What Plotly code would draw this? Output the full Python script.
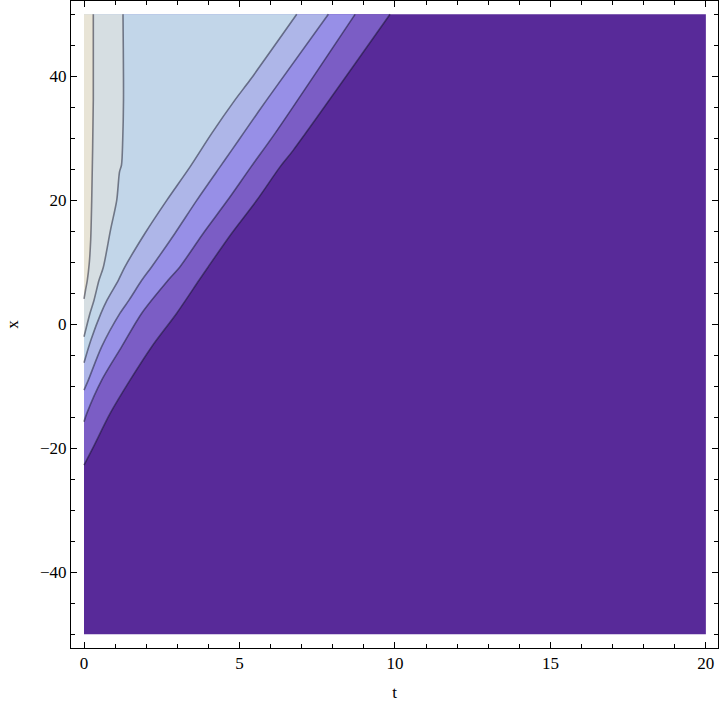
import plotly.graph_objects as go

# Domain of the contour plot
T_RANGE = [0, 20]
X_RANGE = [-50, 50]

# Contour boundary lines (t values, x values), top to bottom
L1_t = [0.299, 0.299, 0.248, 0.215, 0.170, 0.106, 0.048, 0.0]
L1_x = [50, 36.2, 20.0, 13.6, 9.9, 7.1, 5.5, 4.1]

L2_t = [1.254, 1.270, 1.245, 1.206, 1.142, 1.052, 0.852, 0.621, 0.482, 0.322, 0.193, 0.0]
L2_x = [50, 36.2, 29.7, 25.7, 24.6, 20.0, 15.2, 9.2, 7.1, 3.9, 1.8, -2.0]

L3_t = [6.841, 5.339, 4.857, 4.107, 3.410, 2.660, 1.962, 1.319, 1.103, 0.740, 0.547, 0.225, 0.0]
L3_x = [50, 39.4, 36.2, 30.8, 25.4, 20.0, 14.7, 9.3, 7.1, 3.9, 1.8, -2.5, -6.2]

L4_t = [7.858, 5.877, 5.124, 4.751, 4.374, 3.625, 2.927, 2.178, 1.856, 1.447, 1.158, 0.569, 0.138, 0.0]
L4_x = [50, 36.2, 30.8, 28.1, 25.4, 20.0, 14.7, 9.3, 7.1, 3.9, 1.8, -3.6, -9.0, -10.6]

L5_t = [8.717, 6.143, 5.371, 4.616, 3.837, 3.088, 2.702, 1.856, 1.213, 0.569, 0.087, 0.0]
L5_x = [50, 30.8, 25.4, 20.0, 14.7, 9.3, 7.1, 1.8, -3.6, -9.0, -14.4, -15.7]

L6_t = [9.842, 6.732, 6.304, 5.555, 4.751, 3.998, 3.699, 2.982, 2.178, 1.480, 0.836, 0.299, 0.0]
L6_x = [50, 28.1, 25.4, 20.0, 14.7, 9.3, 7.1, 1.8, -3.6, -9.0, -14.4, -19.8, -22.7]

# Region colours, from the deepest (right) to the palest (left)
REGION_COLORS = ["#582A99", "#7B5DC5", "#978FE7", "#AEB6E8", "#C2D6E9", "#D6DEE2", "#E8E4D6"]
LINE_COLOR = "rgba(20,20,40,0.5)"

lines = [(L6_t, L6_x), (L5_t, L5_x), (L4_t, L4_x), (L3_t, L3_x), (L2_t, L2_x), (L1_t, L1_x)]

fig = go.Figure()

# Background (deepest) region covering the whole domain
fig.add_trace(go.Scatter(
    x=[T_RANGE[0], T_RANGE[1], T_RANGE[1], T_RANGE[0]],
    y=[X_RANGE[0], X_RANGE[0], X_RANGE[1], X_RANGE[1]],
    fill="toself", fillcolor=REGION_COLORS[0], mode="lines",
    line=dict(width=0), hoverinfo="skip", showlegend=False))

# Regions to the left of each contour line (smooth edge; corners repeated to stay sharp)
for i, (lt, lx) in enumerate(lines):
    xs = [lt[0]] + list(lt) + [lt[-1], T_RANGE[0], T_RANGE[0], T_RANGE[0], lt[0]]
    ys = [lx[0]] + list(lx) + [lx[-1], X_RANGE[1], X_RANGE[1], X_RANGE[1], lx[0]]
    fig.add_trace(go.Scatter(
        x=xs, y=ys, fill="toself", fillcolor=REGION_COLORS[i + 1], mode="lines",
        line=dict(width=0, shape="spline", smoothing=0.8), hoverinfo="skip", showlegend=False))

# Contour lines
for lt, lx in lines:
    fig.add_trace(go.Scatter(
        x=lt, y=lx, mode="lines",
        line=dict(color=LINE_COLOR, width=1.6, shape="spline", smoothing=0.8),
        hoverinfo="skip", showlegend=False))

font = dict(family="Liberation Serif, Times New Roman, serif", size=17, color="black")

fig.update_layout(
    width=720, height=708,
    margin=dict(l=71, r=2, t=1, b=60),
    paper_bgcolor="white", plot_bgcolor="white",
    font=font,
    xaxis=dict(
        range=[-0.418, 20.39], showgrid=False, zeroline=False, automargin=False,
        showline=True, linecolor="black", linewidth=1, mirror="ticks",
        ticks="inside", ticklen=6, tickcolor="black", tickwidth=1,
        tick0=0, dtick=5,
        minor=dict(ticks="inside", dtick=1, ticklen=4, tickcolor="black", tickwidth=1, showgrid=False),
        title=dict(text="t", font=font, standoff=13),
        tickfont=font,
    ),
    yaxis=dict(
        range=[-52.2, 52.15], showgrid=False, zeroline=False, automargin=False,
        showline=True, linecolor="black", linewidth=1, mirror="ticks",
        ticks="inside", ticklen=6, tickcolor="black", tickwidth=1,
        tick0=0, dtick=20,
        minor=dict(ticks="inside", dtick=5, ticklen=4, tickcolor="black", tickwidth=1, showgrid=False),
        title=dict(text="x", font=font, standoff=17),
        tickfont=font,
    ),
)

fig.write_html("out.html", config={"displayModeBar": False},
               post_script="document.body.style.margin='0';")
